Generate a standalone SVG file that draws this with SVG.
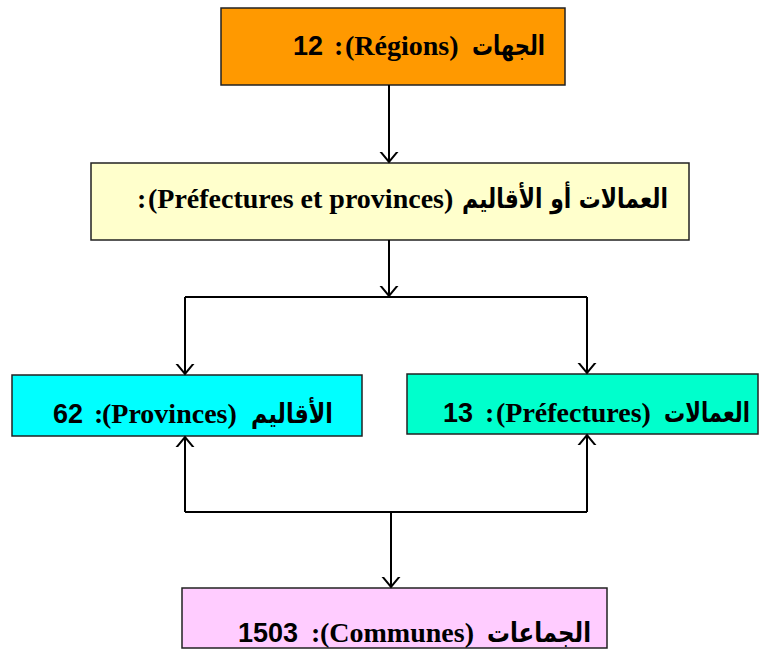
<svg xmlns="http://www.w3.org/2000/svg" width="760" height="651" viewBox="0 0 760 651">
  <defs>
    <marker id="arrow" viewBox="0 0 20 20" refX="10" refY="10" markerWidth="20" markerHeight="20" markerUnits="userSpaceOnUse" orient="auto">
      <path d="M-1,1 L10,10 L-1,19" fill="none" stroke="#000" stroke-width="2"/>
    </marker>
    <style>
      .box { stroke: #222; stroke-width: 1.5; }
      .lat { font-family: "Liberation Serif", "Times New Roman", serif; font-weight: bold; font-size: 28px; fill: #000; }
      .num { font-family: "Liberation Sans", Arial, sans-serif; font-weight: bold; font-size: 27px; }
      .ar { font-family: "DejaVu Sans", "Noto Sans", sans-serif; font-weight: bold; font-size: 27px; fill: #000; }
      .link { fill: none; stroke: #000; stroke-width: 2; }
    </style>
  </defs>
  <rect width="760" height="651" fill="#fff"/>

  <g id="regions">
    <rect class="box" x="221" y="8" width="344" height="77" fill="#FF9900"/>
    <text class="lat" y="55"><tspan class="num" x="293">12</tspan><tspan x="334">:</tspan><tspan x="345">(Régions)</tspan></text>
    <text class="ar" x="545" y="55" text-anchor="end" textLength="73" lengthAdjust="spacingAndGlyphs">الجهات</text>
  </g>

  <g id="prefectures-provinces">
    <rect class="box" x="91" y="163" width="598" height="77" fill="#FFFFCC"/>
    <text class="lat" y="208"><tspan x="137">:</tspan><tspan x="148">(Préfectures et provinces)</tspan></text>
    <text class="ar" x="668" y="208" text-anchor="end" textLength="206" lengthAdjust="spacingAndGlyphs">العمالات أو الأقاليم</text>
  </g>

  <g id="provinces">
    <rect class="box" x="12" y="375" width="350" height="61" fill="#00FFFF"/>
    <text class="lat" y="423"><tspan class="num" x="53">62</tspan><tspan x="94">:</tspan><tspan x="102">(Provinces)</tspan></text>
    <text class="ar" x="333" y="423" text-anchor="end" textLength="82" lengthAdjust="spacingAndGlyphs">الأقاليم</text>
  </g>

  <g id="prefectures">
    <rect class="box" x="407" y="374" width="351" height="60" fill="#00FFCC"/>
    <text class="lat" y="422"><tspan class="num" x="443">13</tspan><tspan x="485">:</tspan><tspan x="496">(Préfectures)</tspan></text>
    <text class="ar" x="750" y="422" text-anchor="end" textLength="86" lengthAdjust="spacingAndGlyphs">العمالات</text>
  </g>

  <g id="communes">
    <rect class="box" x="182" y="588" width="425" height="60" fill="#FFCCFF"/>
    <text class="lat" y="642"><tspan class="num" x="238">1503</tspan><tspan x="311">:</tspan><tspan x="320">(Communes)</tspan></text>
    <text class="ar" x="591" y="642" text-anchor="end" textLength="104" lengthAdjust="spacingAndGlyphs">الجماعات</text>
  </g>

  <g id="connectors">
    <path class="link" d="M389,85 V162" marker-end="url(#arrow)"/>
    <path class="link" d="M389,240 V296" marker-end="url(#arrow)"/>
    <path class="link" d="M185,297 H587"/>
    <path class="link" d="M185,297 V374" marker-end="url(#arrow)"/>
    <path class="link" d="M587,297 V373" marker-end="url(#arrow)"/>
    <path class="link" d="M185,512 V437" marker-end="url(#arrow)"/>
    <path class="link" d="M587,512 V435" marker-end="url(#arrow)"/>
    <path class="link" d="M185,512 H587"/>
    <path class="link" d="M391,512 V587" marker-end="url(#arrow)"/>
  </g>
</svg>
